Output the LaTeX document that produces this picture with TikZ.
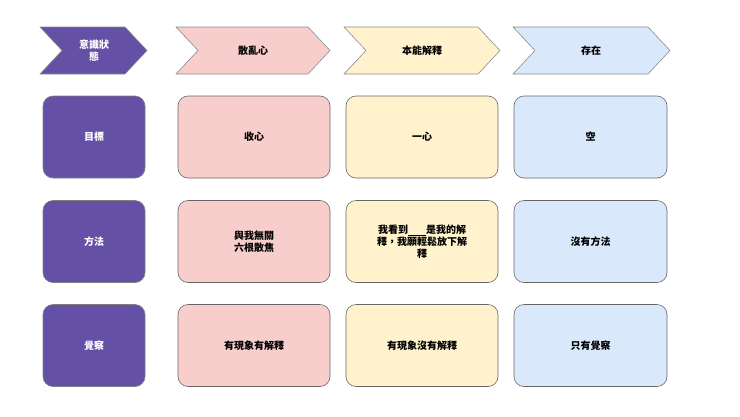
\documentclass[tikz,border=0pt]{standalone}
\usepackage{fontspec}
\setmainfont{Noto Sans CJK TC}
\begin{document}
\begin{tikzpicture}[x=1pt,y=-1pt,
  box/.style={draw=black!60,line width=0.6pt,rounded corners=10pt,minimum width=#1,minimum height=82pt,align=center,font=\bfseries\fontsize{10}{12}\selectfont,text width=120pt},
  chev/.style={draw=black!45,line width=0.6pt},
  lab/.style={font=\bfseries\fontsize{10}{12}\selectfont,align=center}]
\useasboundingbox (0,0) rectangle (740,416);
\definecolor{pur}{HTML}{6450A5}
\definecolor{pk}{HTML}{F8CECC}
\definecolor{yl}{HTML}{FFF2CC}
\definecolor{bl}{HTML}{DAE8FC}
\newcommand{\chevshape}[4]{% x0 x1 fill name
  \fill[#3,draw=black!45,line width=0.6pt] (#1,27) -- (#2-22,27) -- (#2,50.5) -- (#2-22,74) -- (#1,74) -- (#1+22,50.5) -- cycle;}
\chevshape{40}{147}{pur}{a}
\chevshape{176}{330}{pk}{b}
\chevshape{344}{500}{yl}{c}
\chevshape{513}{670}{bl}{d}
\node[lab,text=white] (h0) at (94,50.5) {意識狀\\態};
\node[lab] (h1) at (253,50.5) {散亂心};
\node[lab] (h2) at (422,50.5) {本能解釋};
\node[lab] (h3) at (591,50.5) {存在};
\foreach \r/\y in {1/137,2/241.5,3/345.5}{
  \node[box=102pt,fill=pur,draw=black!50,text=white,text width=90pt] (p\r) at (94,\y) {};
  \node[box=152pt,fill=pk] (k\r) at (254,\y) {};
  \node[box=152pt,fill=yl] (y\r) at (422,\y) {};
  \node[box=153pt,fill=bl] (b\r) at (590.5,\y) {};
}
\node[lab,text=white] at (p1) {目標};
\node[lab,text=white] at (p2) {方法};
\node[lab,text=white] at (p3) {覺察};
\node[lab] at (k1) {收心};
\node[lab] at (y1) {一心};
\node[lab] at (b1) {空};
\node[lab] at (k2) {與我無關\\六根散焦};
\node[lab,text width=118pt] at (y2) {我看到\underline{\hspace{1.8em}}是我的解\\釋，我願輕鬆放下解\\釋};
\node[lab] at (b2) {沒有方法};
\node[lab] at (k3) {有現象有解釋};
\node[lab] at (y3) {有現象沒有解釋};
\node[lab] at (b3) {只有覺察};
\end{tikzpicture}
\end{document}
